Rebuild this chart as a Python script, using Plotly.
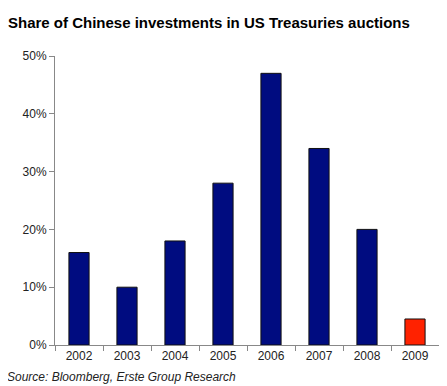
import plotly.graph_objects as go

years = ["2002", "2003", "2004", "2005", "2006", "2007", "2008", "2009"]
shares = [16, 10, 18, 28, 47, 34, 20, 4.5]
bar_colors = ["#000c80"] * 7 + ["#ff2200"]
y_ticks = [0, 10, 20, 30, 40, 50]
y_tick_labels = ["0%", "10%", "20%", "30%", "40%", "50%"]

fig = go.Figure(go.Bar(
    x=years, y=shares,
    marker=dict(color=bar_colors, line=dict(color="#111111", width=1)),
))

fig.update_layout(
    width=447, height=386,
    margin=dict(l=47, r=16, t=48, b=49),
    paper_bgcolor="white", plot_bgcolor="white",
    font=dict(family="Liberation Sans, Arial, sans-serif", color="#222222", size=12),
    bargap=0.58,
    showlegend=False,
    title=dict(text="<b>Share of Chinese investments in US Treasuries auctions</b>",
               x=0.0, xanchor="left", y=0.962, yanchor="middle",
               pad=dict(l=0, t=0, r=0, b=0),
               font=dict(size=15, color="#000000")),
    annotations=[dict(text="<i>Source: Bloomberg, Erste Group Research</i>",
                      xref="paper", yref="paper", x=-0.13, y=-0.11,
                      xanchor="left", yanchor="middle", showarrow=False,
                      font=dict(size=12, color="#222222"))],
)
fig.update_xaxes(showline=True, linecolor="#888888", linewidth=1,
                 ticks="outside", tickson="boundaries", ticklen=5, tickcolor="#888888",
                 showgrid=False, tickfont=dict(size=12, color="#222222"))
fig.update_yaxes(range=[0, 50], tickvals=y_ticks, ticktext=y_tick_labels,
                 showline=True, linecolor="#888888", linewidth=1,
                 ticks="outside", ticklen=5, tickcolor="#888888",
                 showgrid=False, zeroline=False, tickfont=dict(size=12, color="#222222"))

fig.write_html("out.html")
